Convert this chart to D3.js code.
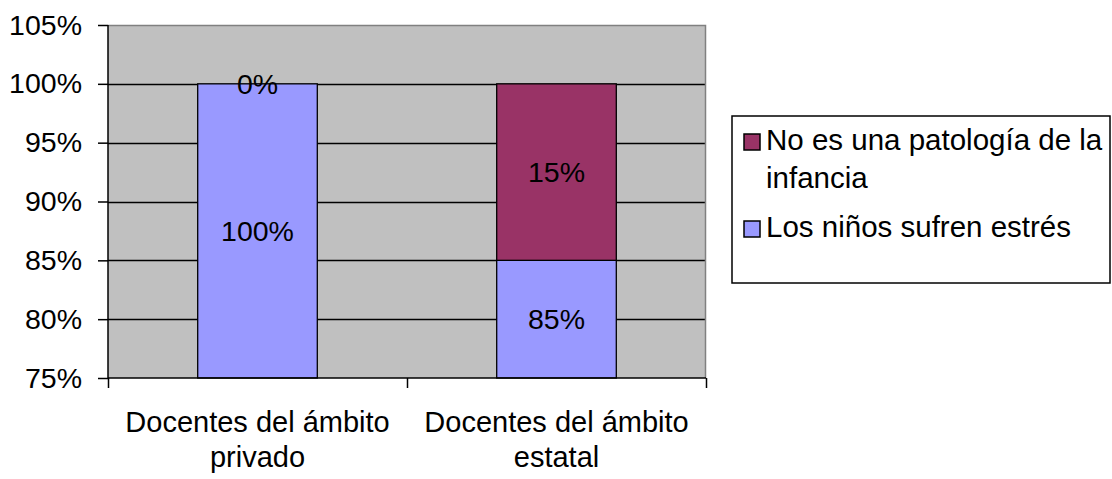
<!DOCTYPE html>
<html>
<head>
<meta charset="utf-8">
<script src="https://cdn.jsdelivr.net/npm/d3@7"></script>
<style>
  html, body { margin: 0; padding: 0; background: #fff; }
  svg { display: block; font-family: "Liberation Sans", Arial, sans-serif; }
</style>
</head>
<body>
<svg id="chart" width="1112" height="479"></svg>
<script>
const categories = [["Docentes del ámbito", "privado"], ["Docentes del ámbito", "estatal"]];
const categoryKeys = ["privado", "estatal"];
const seriesNames = ["Los niños sufren estrés", "No es una patología de la infancia"];
const seriesLegendLines = [["Los niños sufren estrés"], ["No es una patología de la", "infancia"]];
const ninosValues = [1.00, 0.85];
const patologiaValues = [0.00, 0.15];
const seriesColors = ["#9999FF", "#993366"];
const yTicks = [0.75, 0.80, 0.85, 0.90, 0.95, 1.00, 1.05];

const svg = d3.select("#chart");
const pLeft = 108, pRight = 706, pTop = 25, pBottom = 378;

const x = d3.scaleBand().domain(categoryKeys).range([pLeft, pRight]).padding(0);
const y = d3.scaleLinear().domain([0.75, 1.05]).range([pBottom, pTop]).clamp(true);

const rows = categoryKeys.map((k, i) => ({ key: k, s0: ninosValues[i], s1: patologiaValues[i] }));
const stack = d3.stack().keys(["s0", "s1"]);
const stacked = stack(rows);

// plot background
svg.append("rect").attr("x", pLeft).attr("y", pTop).attr("width", pRight - pLeft).attr("height", pBottom - pTop)
  .attr("fill", "#C0C0C0");

// gridlines
svg.append("g").selectAll("line").data(yTicks.filter(t => t > 0.75 && t < 1.05)).join("line")
  .attr("x1", pLeft).attr("x2", pRight)
  .attr("y1", d => Math.round(y(d)) + 0.5).attr("y2", d => Math.round(y(d)) + 0.5)
  .attr("stroke", "#000").attr("stroke-width", 1.3);

// top and right border (grey)
svg.append("path")
  .attr("d", `M${pLeft},${pTop + 0.5}H${pRight - 0.5}V${pBottom}`)
  .attr("fill", "none").attr("stroke", "#808080").attr("stroke-width", 1.5);

// bars
const barW = x.bandwidth() * 0.4;
stacked.forEach((layer, li) => {
  svg.append("g").selectAll("rect").data(layer).join("rect")
    .attr("x", d => x(d.data.key) + x.bandwidth() / 2 - barW / 2)
    .attr("width", barW)
    .attr("y", d => y(d[1]))
    .attr("height", d => Math.max(0, y(d[0]) - y(d[1])))
    .attr("fill", seriesColors[li])
    .attr("stroke", "#000").attr("stroke-width", 1.3);
});

// data labels
const fmt = d3.format(".0%");
stacked.forEach((layer, li) => {
  svg.append("g").selectAll("text").data(layer).join("text")
    .attr("x", d => x(d.data.key) + x.bandwidth() / 2)
    .attr("y", d => (y(d[0]) + y(d[1])) / 2)
    .attr("dy", "0.36em")
    .attr("text-anchor", "middle")
    .attr("font-size", 28.5)
    .attr("fill", "#000")
    .text(d => fmt(d[1] - d[0]));
});

// y axis
const yAxis = d3.axisLeft(y).tickValues(yTicks).tickFormat(d3.format(".0%")).tickSize(10).tickPadding(16);
const gy = svg.append("g").attr("transform", `translate(${pLeft},0)`).call(yAxis);
gy.select(".domain").attr("stroke", "#000").attr("stroke-width", 1.5).attr("d", `M0,${pTop}V${pBottom}`);
gy.selectAll(".tick line").attr("stroke", "#000").attr("stroke-width", 1.5);
gy.selectAll(".tick text").attr("font-size", 28.5).attr("fill", "#000").attr("font-family", "Liberation Sans, Arial, sans-serif");

// x axis
const xAxis = d3.axisBottom(d3.scaleLinear().domain([0, 2]).range([pLeft, pRight])).tickValues([0, 1, 2]).tickFormat("").tickSize(10);
const gx = svg.append("g").attr("transform", `translate(0,${pBottom})`).call(xAxis);
gx.select(".domain").attr("stroke", "#000").attr("stroke-width", 1.5).attr("d", `M${pLeft},0H${pRight}`);
gx.selectAll(".tick line").attr("stroke", "#000").attr("stroke-width", 1.5);

// category labels
const catG = svg.append("g");
categories.forEach((lines, i) => {
  const t = catG.append("text")
    .attr("x", x(categoryKeys[i]) + x.bandwidth() / 2)
    .attr("y", 432)
    .attr("text-anchor", "middle")
    .attr("font-size", 29)
    .attr("fill", "#000");
  lines.forEach((ln, j) => {
    t.append("tspan").attr("x", x(categoryKeys[i]) + x.bandwidth() / 2).attr("dy", j === 0 ? 0 : 35).text(ln);
  });
});

// legend
const lg = svg.append("g");
lg.append("rect").attr("x", 732).attr("y", 116).attr("width", 378).attr("height", 167)
  .attr("fill", "#fff").attr("stroke", "#000").attr("stroke-width", 1.5);
const legendOrder = [1, 0];
const legendY = [150, 237];
legendOrder.forEach((si, k) => {
  lg.append("rect").attr("x", 744).attr("y", legendY[k] - 16).attr("width", 16).attr("height", 16)
    .attr("fill", seriesColors[si]).attr("stroke", "#000").attr("stroke-width", 1.5);
  const t = lg.append("text").attr("x", 766).attr("y", legendY[k]).attr("font-size", 29.5).attr("fill", "#000");
  seriesLegendLines[si].forEach((ln, j) => {
    t.append("tspan").attr("x", 766).attr("dy", j === 0 ? 0 : 38).text(ln);
  });
});
</script>
</body>
</html>
